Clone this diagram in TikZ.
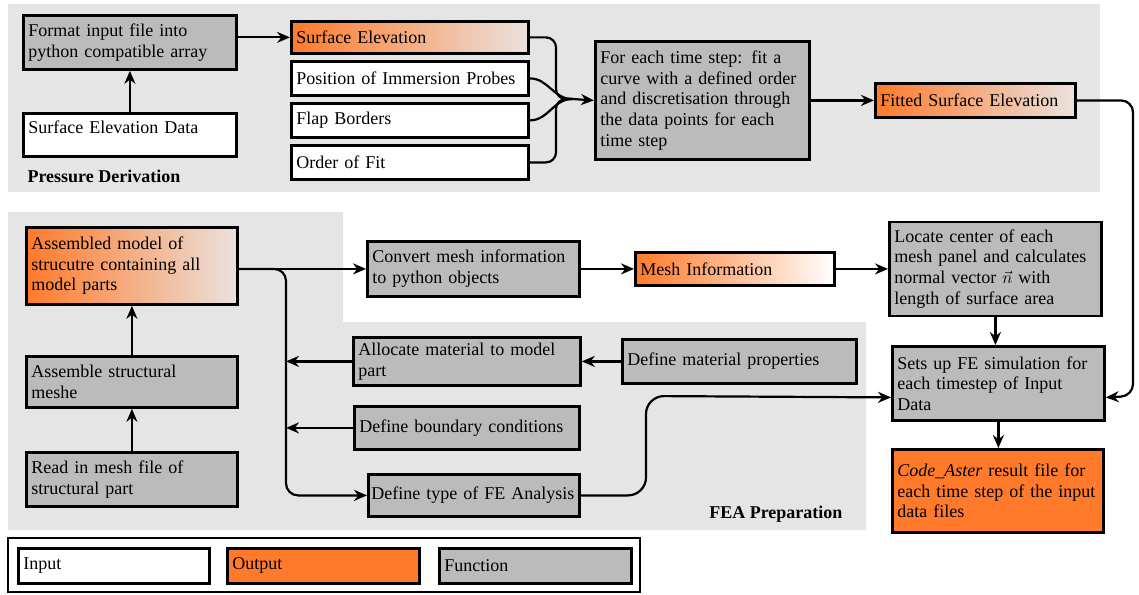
\documentclass[tikz,border=0pt]{standalone}
\usepackage{fontspec}
\setmainfont{Liberation Serif}
\usepackage{tikz}
\usetikzlibrary{arrows.meta,positioning}
\definecolor{orangeC}{RGB}{255,122,42}
\definecolor{fnGray}{RGB}{187,187,187}
\definecolor{bgGray}{RGB}{229,229,229}
\definecolor{fadeC}{RGB}{234,226,222}

\begin{document}
\begin{tikzpicture}[x=1pt,y=-1pt,
    font=\fontsize{18}{20.6}\selectfont,
    box/.style={rectangle,draw,line width=2.8pt,align=left,anchor=north west,inner xsep=5pt,inner ysep=3pt,
        execute at begin node={\hyphenpenalty=10000\exhyphenpenalty=10000}},
    inbox/.style={box,fill=white},
    outbox/.style={box,fill=orangeC},
    fadebox/.style={box,left color=orangeC,right color=fadeC},
    fnbox/.style={box,fill=fnGray},
    line/.style={line width=2.2pt},
    arr/.style={line,-{Stealth[length=13pt,width=11pt]}}]

    \useasboundingbox (0,0) rectangle (1139,594);

    % Background regions
    \fill[bgGray] (8,4) rectangle (1100,192);
    \fill[bgGray] (8,212) -| (343,322) -| (866,530) -| (8,212) -- cycle;

    % Pressure derivation
    \node[fnbox,text width=203pt,minimum height=54pt] (fmt) at (22,14) {Format input file into\\python compatible array};
    \node[inbox,text width=203pt,minimum height=43pt] (sed) at (22,112) {Surface Elevation Data\\[-6pt]\mbox{}};
    \node[fadebox,text width=227pt,minimum height=32pt] (se) at (290,20) {Surface Elevation};
    \node[inbox,text width=227pt,minimum height=34pt] (pip) at (290,60) {Position of Immersion Probes};
    \node[inbox,text width=227pt,minimum height=34pt] (fb) at (290,102) {Flap Borders};
    \node[inbox,text width=227pt,minimum height=34pt] (oof) at (290,144) {Order of Fit};
    \node[fnbox,text width=204pt,minimum height=118pt] (fit) at (594,40) {For each time step: fit a\\curve with a defined order\\and discretisation through\\the data points for each\\time step};
    \node[fadebox,text width=190pt,minimum height=34pt] (fse) at (874,82) {Fitted Surface Elevation};

    % FEA preparation
    \node[fadebox,text width=201pt,minimum height=77pt] (amp) at (25,226) {Assembled model of\\strucutre containing all\\model parts};
    \node[fnbox,text width=201pt,minimum height=51pt] (asm) at (25,355) {Assemble structural\\meshe};
    \node[fnbox,text width=201pt,minimum height=54pt] (rim) at (25,451) {Read in mesh file of\\structural part};
    \node[fnbox,text width=202pt,minimum height=55pt] (cmi) at (366,240) {Convert mesh information\\to python objects};
    \node[fadebox,right color=white,text width=189pt,minimum height=33pt] (mi) at (634,251) {Mesh Information};
    \node[fnbox,text width=202pt,minimum height=94pt] (loc) at (888,220.5) {Locate center of each\\mesh panel and calculates\\normal vector $\vec{n}$ with\\length of surface area};
    \node[fnbox,text width=217pt,minimum height=48pt] (amm) at (352,336) {Allocate material to model\\part};
    \node[fnbox,text width=224pt,minimum height=44pt] (dmp) at (621,338) {Define material properties};
    \node[fnbox,text width=215pt,minimum height=43pt] (dbc) at (353,405) {Define boundary conditions};
    \node[fnbox,inner xsep=3pt,text width=205pt,minimum height=42pt] (dfa) at (367,473) {\mbox{Define type of FE Analysis}};
    \node[fnbox,text width=202pt,minimum height=74pt] (sfe) at (891,345) {Sets up FE simulation for\\each timestep of Input\\Data};
    \node[outbox,text width=201pt,minimum height=83pt] (cares) at (891,448) {\textit{Code\_Aster} result file for\\each time step of the input\\data files};

    % Legend
    \draw[line width=2.8pt] (8,538) rectangle (640,592);
    \node[inbox,text width=181pt,minimum height=35pt] (lin) at (17,547) {Input};
    \node[outbox,text width=182pt,minimum height=35pt] (lout) at (226,547) {Output};
    \node[fnbox,text width=182pt,minimum height=35pt] (lfn) at (438,547) {Function};

    \node[font=\fontsize{18}{20.6}\selectfont\bfseries,anchor=west] (pdlbl) at (24,176) {Pressure Derivation};
    \node[font=\fontsize{18}{20.6}\selectfont\bfseries,anchor=east] (fealbl) at (846,514) {FEA Preparation};

    \coordinate (merge) at (572,99);
    \coordinate (bus) at (286,267);
    \coordinate (sfeE) at ([yshift=-14pt]sfe.east);
    \coordinate (sfeW) at ([yshift=-14pt]sfe.west);

    \draw[arr] (sed) -- (fmt);
    \draw[arr] (fmt.east |- se.west) -- (se.west);
    \draw[line,rounded corners=10pt] (se.east) -| (556,99) -- (merge);
    \draw[line] (pip.east) to[out=0,in=180] (merge);
    \draw[line] (fb.east) to[out=0,in=180] (merge);
    \draw[line,rounded corners=10pt] (oof.east) -| (556,99) -- (merge);
    \draw[arr] (merge) -- (fit.west);
    \draw[arr] (fit.east) -- (fse.west);
    \draw[arr,rounded corners=12pt] (fse.east) -| (1133,396) -- (sfeE);

    \draw[arr] (rim) -- (asm);
    \draw[arr] (asm) -- (amp);
    \draw[arr] (amp.east |- cmi.west) -- (cmi.west);
    \draw[arr,rounded corners=12pt] (amp.east |- cmi.west) -| (bus |- dfa.west) -- (dfa.west);
    \draw[arr] (amm.west) -- (amm.west -| bus);
    \draw[arr] (dbc.west) -- (dbc.west -| bus);
    \draw[arr] (dmp.west) -- (amm.east);
    \draw[arr] (cmi.east) -- (mi.west);
    \draw[arr] (mi.east) -- (loc.west);
    \draw[arr] (loc.south) -- (loc.south |- sfe.north);
    \draw[arr] (sfe.south) -- (sfe.south |- cares.north);
    \draw[arr,rounded corners=18pt] (dfa.east) -| (646,396) -- (sfeW);
\end{tikzpicture}
\end{document}
